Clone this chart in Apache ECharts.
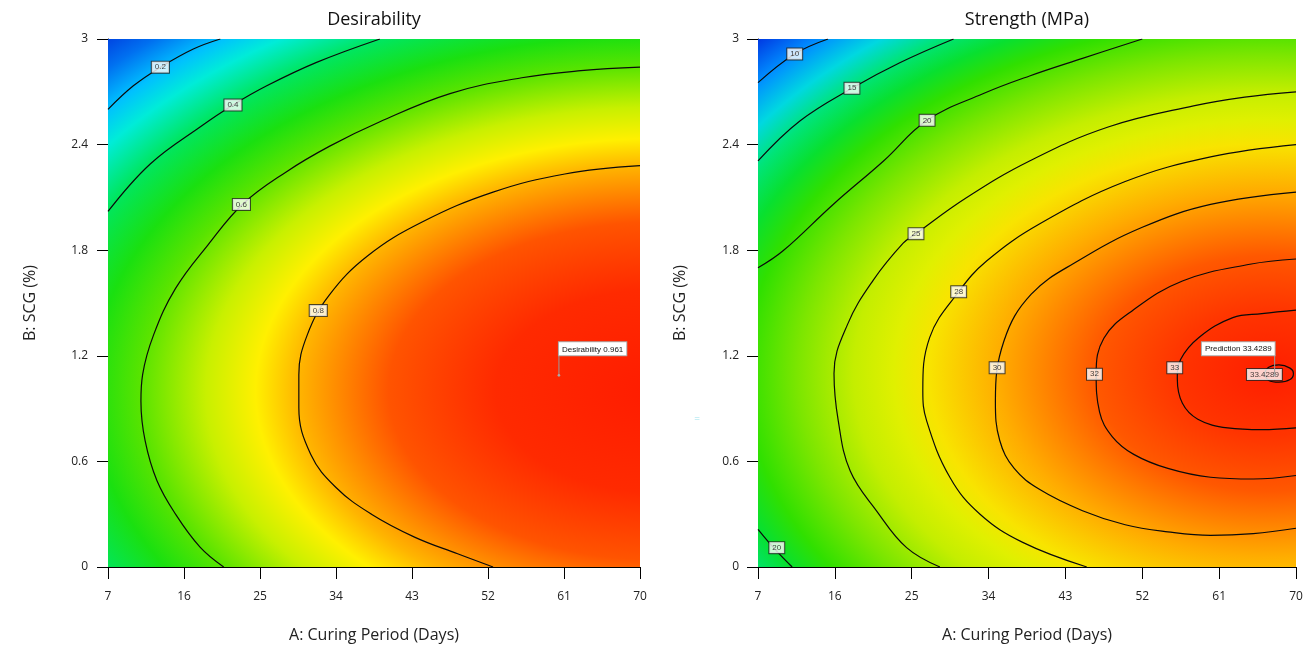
<!DOCTYPE html>
<html><head><meta charset="utf-8">
<script src="https://cdn.jsdelivr.net/npm/echarts@6/dist/echarts.min.js"></script>
<style>html,body{margin:0;padding:0;background:#fff}#c{width:1309px;height:648px}</style>
</head><body><div id="c"></div>
<script>
// ---------- data ----------
const xTicks = [7, 16, 25, 34, 43, 52, 61, 70];
const yTicks = [0, 0.6, 1.2, 1.8, 2.4, 3];
const xTitle = 'A: Curing Period (Days)';
const yTitle = 'B: SCG (%)';
const titles = ['Desirability', 'Strength (MPa)'];

// Desirability contours  [A, B]
const desC02 = [[7,2.60],[10.0,2.734],[13.2,2.839],[17.1,2.943],[20.3,3.0]];
const desC04 = [[7,2.02],[12.0,2.29],[17.9,2.50],[21.8,2.625],[25.8,2.734],[31.7,2.867],[39.2,3.0]];
const desC06 = [[70,2.84],[63,2.82],[56,2.78],[47.5,2.69],[39.2,2.53],[33.2,2.39],[28.1,2.245],[23.0,2.064],[18.8,1.828],[15.0,1.583],[12.4,1.319],[11.1,1.093],[10.9,0.942],[11.4,0.716],[12.8,0.49],[15.0,0.30],[17.9,0.113],[20.7,0.0]];
const desC08 = [[70,2.28],[61.1,2.233],[52.6,2.13],[44.2,1.96],[37.8,1.77],[33.2,1.545],[30.6,1.319],[29.6,1.093],[29.6,0.905],[31.0,0.641],[34.0,0.452],[38.2,0.30],[43.3,0.17],[48.4,0.075],[52.6,0.0]];
const desLabels = [[13.2,2.84,'0.2'],[21.8,2.625,'0.4'],[22.8,2.06,'0.6'],[31.9,1.457,'0.8']];
const desOptimum = [60.4, 1.089, 0.961];

// Strength contours [A, B]
const strC10 = [[7,2.752],[11.3,2.915],[15.2,3.0]];
const strC15 = [[7,2.307],[11.9,2.534],[18.0,2.72],[23.6,2.865],[29.9,3.0]];
const strC20 = [[7,1.70],[9.9,1.795],[15.8,2.06],[21.7,2.307],[26.8,2.538],[33.4,2.69],[38.8,2.79],[45,2.89],[52,3.0]];
const strC20b = [[7,0.214],[9.0,0.10],[11.0,0.0]];
const strC25 = [[70,2.70],[64,2.67],[58,2.62],[48,2.50],[38.8,2.307],[31.4,2.098],[25.5,1.894],[24.0,1.84],[20.5,1.63],[17.5,1.38],[15.9,1.10],[16.4,0.83],[17.8,0.545],[20.9,0.318],[24.4,0.11],[28.3,0.0]];
const strC28 = [[70,2.40],[60,2.33],[50,2.19],[40,1.95],[33.8,1.74],[30.5,1.564],[27.1,1.303],[26.3,1.0],[26.75,0.83],[29.5,0.507],[33,0.30],[38,0.14],[45.5,0.0]];
const strC30 = [[70,2.13],[60,2.06],[52,1.93],[44.5,1.74],[39.0,1.55],[35.8,1.284],[34.8,0.94],[35.3,0.72],[37,0.56],[40,0.44],[45,0.32],[50,0.24],[55,0.20],[60,0.18],[65,0.19],[70,0.22]];
const strC32 = [[70,1.75],[64.6,1.72],[56.7,1.625],[50.8,1.455],[47.5,1.30],[46.6,1.10],[47,0.88],[48.5,0.74],[51,0.64],[55,0.56],[60,0.51],[65,0.50],[70,0.52]];
const strC33 = [[70,1.46],[66,1.44],[62.6,1.417],[58.6,1.303],[56.5,1.18],[56.1,1.07],[56.7,0.93],[58.5,0.84],[62,0.79],[66,0.78],[70,0.79]];
const strC334 = [[66.3,1.10],[66.8,1.135],[68,1.148],[69.3,1.13],[69.7,1.10],[69.3,1.065],[68,1.05],[66.8,1.06],[66.3,1.10]];
const strLabels = [[11.3,2.915,'10'],[18.0,2.72,'15'],[26.8,2.538,'20'],[25.5,1.894,'25'],[30.5,1.564,'28'],[35.0,1.132,'30'],[46.4,1.095,'32'],[55.8,1.132,'33'],[66.3,1.094,'33.4289'],[9.2,0.11,'20']];
const strOptimum = [67.5, 1.09, 33.4289];

// ---------- styles ----------
const FONT = '"Open Sans","Noto Sans",sans-serif';
const grids = [
  {left:108, top:39, width:532, height:528},
  {left:758, top:39, width:538, height:528}
];
const desField = {c:[72,1.0], u:[42.4,1.28], R:2.25, stops:[
  [0,'#ff1c00'],[0.2,'#ff2a00'],[0.333,'#ff5400'],[0.444,'#ffb400'],[0.498,'#fff000'],[0.56,'#c8f000'],
  [0.64,'#5ae400'],[0.702,'#1ae010'],[0.773,'#00e660'],[0.836,'#00ecd8'],[0.88,'#00c0ff'],[0.933,'#0070f0'],[1,'#0028d8']]};
const strField = {c:[67,1.1], u:[20.5,0.67], R:4.2, stops:[
  [0,'#ff1e00'],[0.126,'#ff3400'],[0.238,'#ff5800'],[0.369,'#ffac00'],[0.464,'#f8e400'],[0.512,'#e0f000'],
  [0.567,'#c4ee00'],[0.643,'#7ce600'],[0.714,'#30e000'],[0.762,'#08e030'],[0.81,'#00e478'],[0.857,'#00d8e0'],
  [0.91,'#0090ff'],[0.976,'#0030e0'],[1,'#0028d8']]};

function fieldSeries(idx, f){
  return {
    type:'custom', xAxisIndex:idx, yAxisIndex:idx, silent:true, clip:true, z:1,
    data:[f.c],
    renderItem:function(params, api){
      const c = api.coord([api.value(0), api.value(1)]);
      const p1 = api.coord([api.value(0)+f.u[0], api.value(1)+f.u[1]]);
      const rx = Math.abs(p1[0]-c[0]), ry = Math.abs(p1[1]-c[1]);
      const cs = params.coordSys;
      const k = ry/rx;
      return {
        type:'rect', originX:c[0], originY:c[1], scaleY:k,
        shape:{x:cs.x, y:c[1]+(cs.y-c[1])/k, width:cs.width, height:cs.height/k},
        style:{fill:{type:'radial', x:c[0], y:c[1], r:rx*f.R, global:true,
          colorStops:f.stops.map(s=>({offset:s[0], color:s[1]}))}}
      };
    }
  };
}
function contour(idx, pts){
  return {type:'line', xAxisIndex:idx, yAxisIndex:idx, data:pts, smooth:0.4, showSymbol:false, silent:true, z:3,
    lineStyle:{color:'#0a0a0a', width:1.2}};
}
function labels(idx, pts){
  return {type:'scatter', xAxisIndex:idx, yAxisIndex:idx, data:pts, symbolSize:2, silent:true, z:5,
    itemStyle:{color:'rgba(0,0,0,0)'},
    label:{show:true, position:'inside', formatter:p=>String(p.value[2]), fontSize:8, fontFamily:'"Liberation Sans",sans-serif',
      color:'#111', backgroundColor:'#fff', borderColor:'#222', borderWidth:1, padding:[2,3,1,3]}};
}
function flag(idx, pt, prefix, side){
  return {type:'custom', xAxisIndex:idx, yAxisIndex:idx, data:[pt], silent:true, z:6, clip:false,
    renderItem:function(params, api){
      const p = api.coord([api.value(0), api.value(1)]);
      return {type:'group', children:[
        {type:'line', shape:{x1:p[0],y1:p[1],x2:p[0],y2:p[1]-20}, style:{stroke:'#9a9a9a', lineWidth:1}},
        {type:'circle', shape:{cx:p[0],cy:p[1],r:1.3}, style:{fill:'#aaa'}},
        {type:'text', x:p[0], y:p[1]-20, style:{text:prefix+' '+api.value(2), align:side, verticalAlign:'bottom',
          fontSize:8, fontFamily:'"Liberation Sans",sans-serif', fill:'#111', backgroundColor:'#fff',
          borderColor:'#aaa', borderWidth:1, padding:[3,3,2,3]}}
      ]};
    }};
}
function xAx(idx){
  return {gridIndex:idx, type:'value', min:7, max:70,
    name:xTitle, nameLocation:'middle', nameGap:60,
    nameTextStyle:{fontSize:16, fontFamily:FONT, color:'#222'},
    axisLine:{show:true, onZero:false, lineStyle:{color:'#000', width:1}},
    axisTick:{show:true, customValues:xTicks, length:12, lineStyle:{color:'#000'}},
    axisLabel:{customValues:xTicks, margin:24, fontSize:12, fontFamily:FONT, color:'#222'},
    splitLine:{show:false}};
}
function yAx(idx, gap, margin){
  return {gridIndex:idx, type:'value', min:0, max:3, interval:0.6,
    name:yTitle, nameLocation:'middle', nameGap:gap,
    nameTextStyle:{fontSize:16, fontFamily:FONT, color:'#222'},
    axisLine:{show:true, onZero:false, lineStyle:{color:'#000', width:1}},
    axisTick:{show:true, length:11, lineStyle:{color:'#000'}},
    axisLabel:{margin:margin, fontSize:12, fontFamily:FONT, color:'#222',
      formatter:v=>String(Math.round(v*10)/10)},
    splitLine:{show:false}};
}

const chart = echarts.init(document.getElementById('c'), null, {renderer:'canvas'});
chart.setOption({
  animation:false,
  backgroundColor:'#fff',
  grid:grids,
  xAxis:[xAx(0), xAx(1)],
  yAxis:[yAx(0, 70, 20), yAx(1, 70, 19)],
  graphic:[
    {type:'text', x:374, y:20, style:{text:titles[0], align:'center', verticalAlign:'middle', fontSize:18, fontFamily:FONT, fill:'#111'}},
    {type:'text', x:1027, y:20, style:{text:titles[1], align:'center', verticalAlign:'middle', fontSize:18, fontFamily:FONT, fill:'#111'}},
    {type:'text', x:697, y:419, style:{text:'=', align:'center', verticalAlign:'middle', fontSize:10, fontFamily:FONT, fill:'#9fe3ee'}}
  ],
  series:[
    fieldSeries(0, desField),
    contour(0, desC02), contour(0, desC04), contour(0, desC06), contour(0, desC08),
    labels(0, desLabels),
    flag(0, desOptimum, 'Desirability', 'left'),
    fieldSeries(1, strField),
    contour(1, strC10), contour(1, strC15), contour(1, strC20), contour(1, strC20b), contour(1, strC25),
    contour(1, strC28), contour(1, strC30), contour(1, strC32), contour(1, strC33), contour(1, strC334),
    labels(1, strLabels),
    flag(1, strOptimum, 'Prediction', 'right')
  ]
});
</script></body></html>
